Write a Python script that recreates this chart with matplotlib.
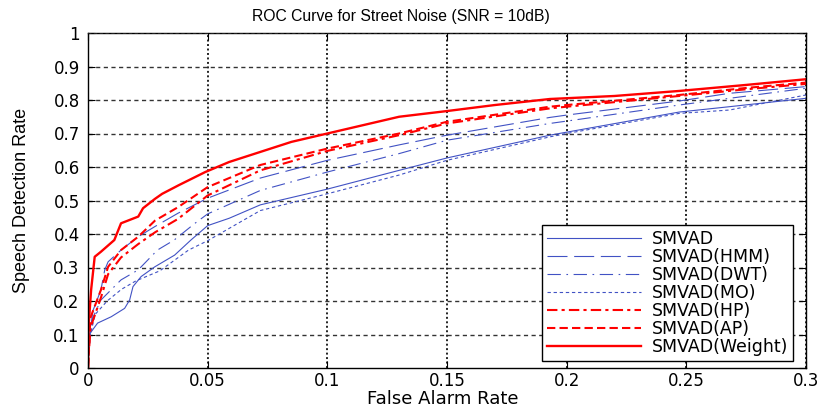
import matplotlib
matplotlib.use("Agg")
import matplotlib.pyplot as plt

plt.rcParams['font.family'] = ['DejaVu Sans']

# ROC operating points (false alarm rate, speech detection rate)
smvad_x = [0, 0.0005, 0.004, 0.0097, 0.0153, 0.0174, 0.0188, 0.0222, 0.0279, 0.0362,
           0.043, 0.05, 0.059, 0.072, 0.1, 0.13, 0.15, 0.193, 0.2, 0.247, 0.268, 0.3]
smvad_y = [0.0, 0.1, 0.134, 0.153, 0.178, 0.203, 0.243, 0.273, 0.302, 0.337,
           0.382, 0.425, 0.447, 0.487, 0.534, 0.59, 0.627, 0.695, 0.704, 0.764, 0.78, 0.805]

hmm_x = [0, 0.002, 0.0054, 0.007, 0.0084, 0.0138, 0.021, 0.0279, 0.0376, 0.05,
         0.072, 0.1, 0.13, 0.15, 0.193, 0.2, 0.247, 0.268, 0.3]
hmm_y = [0.05, 0.17, 0.233, 0.293, 0.317, 0.352, 0.392, 0.422, 0.462, 0.507,
         0.567, 0.62, 0.666, 0.695, 0.748, 0.755, 0.797, 0.82, 0.84]

dwt_x = [0, 0.002, 0.0054, 0.0138, 0.021, 0.029, 0.036, 0.0447, 0.05, 0.072,
         0.1, 0.13, 0.15, 0.193, 0.2, 0.247, 0.268, 0.3]
dwt_y = [0.05, 0.15, 0.203, 0.263, 0.293, 0.352, 0.382, 0.432, 0.46, 0.53,
         0.585, 0.64, 0.68, 0.73, 0.737, 0.785, 0.805, 0.835]

mo_x = [0, 0.001, 0.003, 0.008, 0.014, 0.02, 0.03, 0.042, 0.05, 0.072,
        0.1, 0.13, 0.15, 0.193, 0.2, 0.247, 0.268, 0.3]
mo_y = [0.0, 0.1, 0.16, 0.2, 0.235, 0.26, 0.29, 0.352, 0.38, 0.47,
        0.52, 0.576, 0.62, 0.69, 0.70, 0.76, 0.77, 0.815]

ap_x = [0, 0.001, 0.0054, 0.0084, 0.0138, 0.021, 0.028, 0.0376, 0.05, 0.072,
        0.1, 0.13, 0.15, 0.193, 0.2, 0.247, 0.275, 0.3]
ap_y = [0.0, 0.15, 0.233, 0.302, 0.352, 0.392, 0.44, 0.48, 0.54, 0.606,
        0.655, 0.70, 0.735, 0.78, 0.785, 0.815, 0.836, 0.852]
hp_x = ap_x
hp_y = [0.0, 0.12, 0.21, 0.28, 0.33, 0.37, 0.405, 0.445, 0.515, 0.59,
        0.648, 0.695, 0.73, 0.775, 0.78, 0.812, 0.832, 0.848]

weight_x = [0, 0.0003, 0.0013, 0.0028, 0.0054, 0.011, 0.0138, 0.021, 0.023, 0.028,
            0.031, 0.038, 0.049, 0.059, 0.072, 0.085, 0.1, 0.115, 0.13, 0.15,
            0.17, 0.193, 0.22, 0.247, 0.275, 0.3]
weight_y = [0.0, 0.13, 0.233, 0.332, 0.347, 0.382, 0.432, 0.452, 0.477, 0.505,
            0.52, 0.546, 0.585, 0.615, 0.645, 0.675, 0.70, 0.725, 0.75, 0.767,
            0.785, 0.803, 0.812, 0.827, 0.845, 0.862]

labels = ["SMVAD", "SMVAD(HMM)", "SMVAD(DWT)", "SMVAD(MO)",
          "SMVAD(HP)", "SMVAD(AP)", "SMVAD(Weight)"]
x_ticks = [0, 0.05, 0.1, 0.15, 0.2, 0.25, 0.3]
x_tick_labels = ["0", "0.05", "0.1", "0.15", "0.2", "0.25", "0.3"]
y_ticks = [0, 0.1, 0.2, 0.3, 0.4, 0.5, 0.6, 0.7, 0.8, 0.9, 1]
y_tick_labels = ["0", "0.1", "0.2", "0.3", "0.4", "0.5", "0.6", "0.7", "0.8", "0.9", "1"]

blue = "#4152c4"
red = "#ff0000"

fig = plt.figure(figsize=(8.2, 4.08), dpi=100)
ax = fig.add_axes([88 / 820, 40 / 408, 718 / 820, 335 / 408])

series = [
    (smvad_x, smvad_y, blue, 0.8, "-"),
    (hmm_x, hmm_y, blue, 0.8, (0, (18, 6))),
    (dwt_x, dwt_y, blue, 0.8, (0, (12, 5, 1.5, 5))),
    (mo_x, mo_y, blue, 0.8, (0, (3, 2.5))),
    (hp_x, hp_y, red, 1.5, (0, (5, 2, 1.5, 2))),
    (ap_x, ap_y, red, 1.5, (0, (4, 2))),
    (weight_x, weight_y, red, 1.7, "-"),
]
for (xs, ys, c, lw, ls), lab in zip(series, labels):
    ax.plot(xs, ys, color=c, lw=lw, linestyle=ls, label=lab)

ax.set_xlim(0, 0.3)
ax.set_ylim(0, 1)
ax.set_xticks(x_ticks)
ax.set_xticklabels(x_tick_labels)
ax.set_yticks(y_ticks)
ax.set_yticklabels(y_tick_labels)
ax.tick_params(direction="in", length=5, width=0.8, top=True, right=True,
               labelsize=12)
ax.tick_params(axis="x", pad=3)
ax.tick_params(axis="y", pad=6)

# grid: dashed horizontals, dotted verticals
for yv in y_ticks[1:-1]:
    ax.axhline(yv, color="#333333", lw=1.0, linestyle=(0, (3, 2.5)), zorder=0.5)
for xv in x_ticks[1:]:
    ax.axvline(xv, color="#222222", lw=1.4, linestyle=(0, (1, 1.3)), zorder=0.5)
ax.axhline(1, color="#222222", lw=1.2, linestyle=(0, (2, 1.5)), zorder=3)

for s in ax.spines.values():
    s.set_linewidth(1.0)

fig.text(401 / 820, 1 - 17 / 408, "ROC Curve for Street Noise (SNR = 10dB)",
         ha="center", va="center", fontsize=11.3, family="Liberation Sans")

ax.set_xlabel("False Alarm Rate", fontsize=13)
ax.xaxis.set_label_coords((443 - 88) / 718, -(399 - 368) / 335)
ax.xaxis.label.set_va("center")

ax.set_ylabel("Speech Detection Rate", fontsize=13, family="Liberation Sans")
ax.yaxis.set_label_coords(-66 / 718, 0.5)
ax.yaxis.label.set_va("center")

leg = ax.legend(loc="lower right", bbox_to_anchor=(0.982, 0.021), borderaxespad=0,
                fontsize=12.5, handlelength=5.4, labelspacing=0.0,
                handletextpad=0.6, borderpad=0.3, fancybox=False, framealpha=1,
                edgecolor="black")
leg.get_frame().set_linewidth(1.0)

fig.savefig("out.png", dpi=100)
